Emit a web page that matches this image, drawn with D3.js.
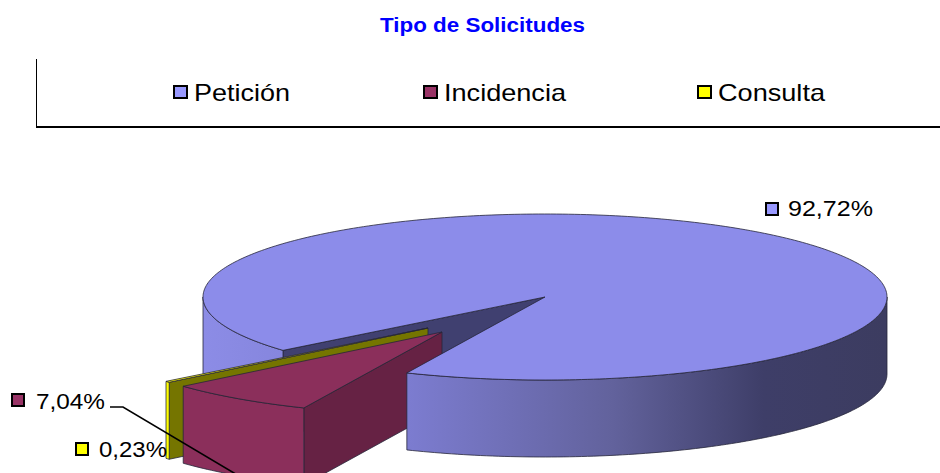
<!DOCTYPE html>
<html>
<head>
<meta charset="utf-8">
<script src="https://cdn.jsdelivr.net/npm/d3@7"></script>
<style>
  html, body { margin: 0; padding: 0; background: #fff; overflow: hidden; }
  text { font-family: "Liberation Sans", Arial, sans-serif; fill: #000; }
</style>
</head>
<body>
<div id="chart"></div>
<script>
// Data
const categories = ["Petición", "Incidencia", "Consulta"];
const values = [92.72, 7.04, 0.23];
const valueLabels = ["92,72%", "7,04%", "0,23%"];

const width = 940, height = 473;

// Colours per category
const legendColors = ["#9999ff", "#993366", "#ffff00"];
const topColors = ["#8c8cea", "#8b2f5b", "#ffff00"];
const outerColors = ["url(#wallGrad)", "#8b2f5b", "#ffff00"];
const innerColors = ["#404070", "#662244", "#757500"];

// Pie projection
const cx = 545, cy = 297, rx = 342, ry = 83, depth = 77;
const explode = [[0, 0], [-103, 35], [-117, 31]];

const svg = d3.select("#chart")
  .append("svg")
  .attr("width", width)
  .attr("height", height);

// Shaded outer wall, light on the left and dark towards the right
const grad = svg.append("defs").append("linearGradient")
  .attr("id", "wallGrad")
  .attr("gradientUnits", "userSpaceOnUse")
  .attr("x1", 203).attr("x2", 887).attr("y1", 0).attr("y2", 0);
[[0, "#8c8ce6"], [0.3, "#7c7cd0"], [0.6, "#62629c"], [0.82, "#3e3e68"], [1, "#3c3c60"]]
  .forEach(s => grad.append("stop").attr("offset", s[0]).attr("stop-color", s[1]));

// Title
svg.append("text")
  .attr("x", 482.5).attr("y", 32)
  .attr("text-anchor", "middle")
  .attr("font-size", 20).attr("font-weight", "bold")
  .attr("textLength", 205).attr("lengthAdjust", "spacingAndGlyphs")
  .style("fill", "#0000ff")
  .text("Tipo de Solicitudes");

// Legend frame (left and bottom only)
svg.append("line").attr("x1", 36.5).attr("x2", 36.5).attr("y1", 59).attr("y2", 127)
  .attr("stroke", "#000");
svg.append("line").attr("x1", 36).attr("x2", width).attr("y1", 127).attr("y2", 127)
  .attr("stroke", "#000").attr("stroke-width", 2);

const legendX = d3.scaleOrdinal().domain(categories).range([174, 424, 698]);
const legendText = d3.scaleOrdinal().domain(categories).range([96, 122, 107]);

categories.forEach((c, i) => {
  svg.append("rect")
    .attr("x", legendX(c)).attr("y", 86).attr("width", 13).attr("height", 12)
    .attr("fill", legendColors[i]).attr("stroke", "#000").attr("stroke-width", 2);
  svg.append("text")
    .attr("x", legendX(c) + 20).attr("y", 101)
    .attr("font-size", 24)
    .attr("textLength", legendText(c)).attr("lengthAdjust", "spacingAndGlyphs")
    .text(c);
});

// Pie angles, measured clockwise from the top of the ellipse
const rad = d => d * Math.PI / 180;
const arcs = d3.pie().sort(null)
  .startAngle(rad(230)).endAngle(rad(590))(values);

const point = (a, i, down) => [
  cx + explode[i][0] + rx * Math.sin(a),
  cy + explode[i][1] - ry * Math.cos(a) + (down ? depth : 0)
];
const line = d3.line();
const sample = (a0, a1) => {
  const n = Math.max(2, Math.ceil(Math.abs(a1 - a0) / rad(1)));
  return d3.range(n + 1).map(k => a0 + (a1 - a0) * k / n);
};

const shape = svg.append("g")
  .attr("stroke", "#26263a").attr("stroke-width", 0.8).attr("stroke-linejoin", "round");

// Cut wall on the side that faces the viewer
function drawCut(d, i) {
  const centre = [cx + explode[i][0], cy + explode[i][1]];
  shape.append("path")
    .attr("d", line([centre, point(d.startAngle, i), point(d.startAngle, i, true),
      [centre[0], centre[1] + depth]]) + "Z")
    .attr("fill", innerColors[i]);
}

// Outer wall between two angles, clamped to the slice
function drawWall(d, i, from, to) {
  const a0 = Math.max(from, d.startAngle), a1 = Math.min(to, d.endAngle);
  if (a1 <= a0) return;
  const as = sample(a0, a1);
  const pts = as.map(a => point(a, i)).concat(as.slice().reverse().map(a => point(a, i, true)));
  shape.append("path")
    .attr("d", line(pts) + "Z")
    .attr("fill", outerColors[i]);
}

function drawTop(d, i) {
  const centre = [cx + explode[i][0], cy + explode[i][1]];
  shape.append("path")
    .attr("d", line([centre].concat(sample(d.startAngle, d.endAngle).map(a => point(a, i)))) + "Z")
    .attr("fill", topColors[i]);
}

// The main slice is split: its left wall sits behind the two cut slices,
// its right wall and top face sit in front of them
drawCut(arcs[0], 0);
drawWall(arcs[0], 0, rad(90), rad(270));
[2, 1].forEach(i => {
  drawCut(arcs[i], i);
  drawWall(arcs[i], i, rad(450), rad(630));
  drawTop(arcs[i], i);
});
drawWall(arcs[0], 0, rad(450), rad(630));
drawTop(arcs[0], 0);

// Data labels
const labelPos = [[766, 203, 788, 216, 85], [12, 394, 36, 409, 69], [76, 443, 99, 457, 68]];
valueLabels.forEach((t, i) => {
  const p = labelPos[i];
  svg.append("rect")
    .attr("x", p[0]).attr("y", p[1]).attr("width", 12).attr("height", 12)
    .attr("fill", legendColors[i]).attr("stroke", "#000").attr("stroke-width", 2);
  svg.append("text")
    .attr("x", p[2]).attr("y", p[3])
    .attr("font-size", 22)
    .attr("textLength", p[4]).attr("lengthAdjust", "spacingAndGlyphs")
    .text(t);
});

// Leader line from the 7,04% label to the middle of its slice's outer wall
const mid = (arcs[1].startAngle + arcs[1].endAngle) / 2;
svg.append("path")
  .attr("d", line([[110, 407], [123, 407], point(mid, 1, true)]))
  .attr("fill", "none").attr("stroke", "#000").attr("stroke-width", 1.6);
</script>
</body>
</html>
